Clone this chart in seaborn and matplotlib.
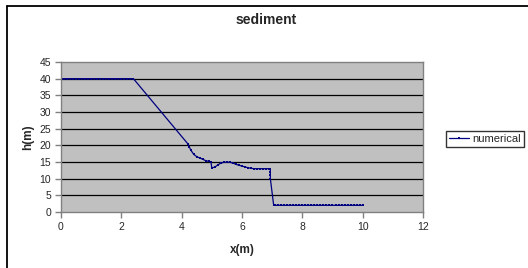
import matplotlib
matplotlib.use("Agg")
import matplotlib.pyplot as plt
import seaborn as sns
import pandas as pd
from matplotlib.lines import Line2D

sns.set_theme(style="white")
plt.rcParams['font.family'] = ['Liberation Sans', 'DejaVu Sans']

x_values = [0.0, 0.1, 0.2, 0.3, 0.4, 0.5, 0.6, 0.7, 0.8, 0.9, 1.0, 1.1, 1.2, 1.3, 1.4,
            1.5, 1.6, 1.7, 1.8, 1.9, 2.0, 2.1, 2.2, 2.3, 2.4,
            4.2, 4.25, 4.3, 4.4, 4.5, 4.6, 4.7, 4.8, 4.9, 4.97, 5.0, 5.1, 5.2, 5.3, 5.4,
            5.5, 5.6, 5.7, 5.8, 5.9, 6.0, 6.1, 6.2, 6.3, 6.4, 6.5, 6.6, 6.7, 6.8, 6.9,
            6.94, 6.94, 6.94, 6.94, 7.05, 7.1, 7.2, 7.3, 7.4, 7.5, 7.6, 7.7, 7.8, 7.9,
            8.0, 8.1, 8.2, 8.3, 8.4, 8.5, 8.6, 8.7, 8.8, 8.9, 9.0, 9.1, 9.2, 9.3, 9.4,
            9.5, 9.6, 9.7, 9.8, 9.9, 10.0]
h_values = [40, 40, 40, 40, 40, 40, 40, 40, 40, 40, 40, 40, 40, 40, 40,
            40, 40, 40, 40, 40, 40, 40, 40, 40, 40,
            20.5, 19.6, 18.6, 17.3, 16.6, 16.2, 15.8, 15.4, 15.2, 15.0, 13.2, 13.5, 14.1, 14.7, 14.9,
            14.9, 14.9, 14.7, 14.3, 14.0, 13.8, 13.5, 13.3, 13.1, 13.0, 13.0, 13.0, 13.0, 13.0, 13.0,
            13.0, 12.0, 11.0, 10.0, 2, 2, 2, 2, 2, 2, 2, 2, 2, 2,
            2, 2, 2, 2, 2, 2, 2, 2, 2, 2, 2, 2, 2, 2, 2,
            2, 2, 2, 2, 2, 2]
series_name = "numerical"
title = "sediment"
x_label = "x(m)"
y_label = "h(m)"
x_ticks = [0, 2, 4, 6, 8, 10, 12]
y_ticks = [0, 5, 10, 15, 20, 25, 30, 35, 40, 45]

df = pd.DataFrame({"x": x_values, "h": h_values, "series": series_name})

W, H = 528, 268
fig = plt.figure(figsize=(W / 100, H / 100), dpi=100)
ax = fig.add_axes([61 / W, 1 - 212 / H, (423 - 61) / W, (212 - 62) / H])
ax.set_facecolor("#C0C0C0")

sns.lineplot(data=df, x="x", y="h", hue="series", palette=["#000080"],
             sort=False, estimator=None, marker="s", markersize=2,
             markeredgewidth=0, linewidth=0.9, ax=ax, legend=True)

ax.set_xlim(0, 12)
ax.set_ylim(0, 45)
ax.set_xticks(x_ticks)
ax.set_yticks(y_ticks)
ax.set_xticklabels([str(t) for t in x_ticks], fontsize=7.5)
ax.set_yticklabels([str(t) for t in y_ticks], fontsize=7.5)
for y in y_ticks[1:-1]:
    ax.axhline(y, color="black", linewidth=0.9, zorder=0.5)
for s in ax.spines.values():
    s.set_color("#808080")
    s.set_linewidth(1)
ax.tick_params(axis="both", direction="out", length=4, width=1, color="#808080",
               pad=3, bottom=True, left=True)
ax.set_xlabel(x_label, fontsize=8.5, fontweight="bold", labelpad=9)
ax.set_ylabel(y_label, fontsize=8.5, fontweight="bold", labelpad=4)
fig.text(266 / W, 1 - 20 / H, title, ha="center", va="center", fontsize=10,
         fontweight="bold")

leg = ax.legend(loc="center left", bbox_to_anchor=(446 / W, 1 - 139 / H),
                bbox_transform=fig.transFigure, fontsize=8, frameon=True,
                fancybox=False, borderpad=0.25, handlelength=1.8, handletextpad=0.3,
                borderaxespad=0)
leg.get_frame().set_edgecolor("black")
leg.get_frame().set_linewidth(1)

x0 = 7 / W
y0 = 1 - 6 / H
fig.lines.append(Line2D([x0, x0], [0, y0], transform=fig.transFigure,
                        color="black", linewidth=1.3))
fig.lines.append(Line2D([x0, 1], [y0, y0], transform=fig.transFigure,
                        color="black", linewidth=1.3))

fig.savefig("out.png", dpi=100)
